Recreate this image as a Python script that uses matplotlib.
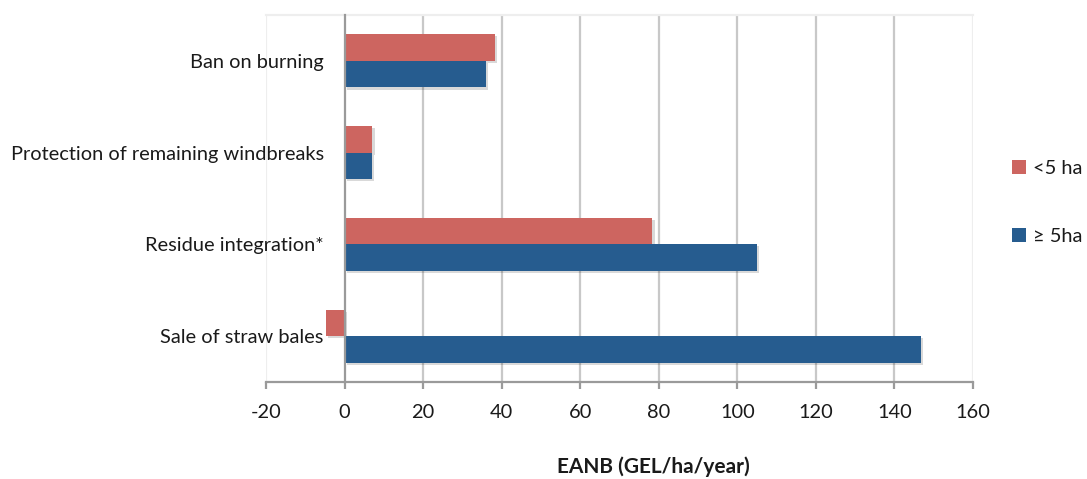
import matplotlib
matplotlib.use("Agg")
import matplotlib.pyplot as plt
import matplotlib.patheffects as pe
import matplotlib.transforms as mtransforms
from matplotlib.patches import Patch
import numpy as np

categories = ["Ban on burning", "Protection of remaining windbreaks",
              "Residue integration*", "Sale of straw bales"]
small_farms = [38.2, 7.1, 78.4, -4.8]       # <5 ha
large_farms = [36.1, 7.0, 105.0, 146.8]     # ≥ 5ha
series_labels = ["<5 ha", "\u2265 5ha"]
x_ticks = [-20, 0, 20, 40, 60, 80, 100, 120, 140, 160]
x_label = "EANB (GEL/ha/year)"

RED = "#CD6560"
BLUE = "#265C8F"
FS = 14.4

plt.rcParams["font.family"] = ["Lato", "DejaVu Sans"]

fig = plt.figure(figsize=(10.87, 4.79), dpi=100)
ax = fig.add_axes([266 / 1087, 1 - 382 / 479, (973 - 266) / 1087, (382 - 15) / 479])

pos = np.arange(len(categories))[::-1]
h = 0.29
shadow = [pe.SimplePatchShadow(offset=(1.5, -1.5), shadow_rgbFace="#000000", alpha=0.15), pe.Normal()]
ax.barh(pos + h / 2, small_farms, height=h, color=RED, path_effects=shadow, zorder=3)
ax.barh(pos - h / 2, large_farms, height=h, color=BLUE, path_effects=shadow, zorder=3)

ax.set_xlim(-20, 160)
ax.set_ylim(-0.5, 3.5)
ax.set_xticks(x_ticks)
ax.set_xticklabels([str(t) for t in x_ticks])
ax.set_yticks(pos)
ax.set_yticklabels(categories, va="center_baseline")

# nudge category labels slightly below the group centre
shift = mtransforms.ScaledTranslation(0, -3.5 / 100, fig.dpi_scale_trans)
for lbl in ax.get_yticklabels():
    lbl.set_transform(lbl.get_transform() + shift)

# grid lines for interior ticks, faint frame at the outer edges
for t in x_ticks[2:-1]:
    ax.axvline(t, color="#C8C8C8", lw=1.6, zorder=1)
for t in (x_ticks[0], x_ticks[-1]):
    ax.axvline(t, color="#EEEEEE", lw=1.6, zorder=1)
ax.axhline(3.5, color="#EEEEEE", lw=1.6, zorder=1, clip_on=False)

ax.spines["top"].set_visible(False)
ax.spines["right"].set_visible(False)
ax.spines["left"].set_position(("data", 0))
ax.spines["left"].set_color("#9A9A9A")
ax.spines["left"].set_linewidth(1.6)
ax.spines["left"].set_zorder(4)
ax.spines["bottom"].set_color("#9A9A9A")
ax.spines["bottom"].set_linewidth(1.6)

ax.tick_params(axis="y", length=0, pad=15, labelsize=FS, labelcolor="#1a1a1a")
ax.tick_params(axis="x", length=5, width=1.6, color="#9A9A9A", direction="out",
               pad=11, labelsize=FS, labelcolor="#1a1a1a")

fig.text(653 / 1087, 1 - 467 / 479, x_label, ha="center", va="center",
         fontsize=15, fontweight="bold", color="#1a1a1a")

handles = [Patch(facecolor=RED, edgecolor="none"), Patch(facecolor=BLUE, edgecolor="none")]
fig.legend(handles, series_labels, loc="center left",
           bbox_to_anchor=(994 / 1087, 1 - 202 / 479), frameon=False,
           fontsize=FS, labelspacing=2.55, handlelength=0.7, handleheight=0.7,
           handletextpad=0.35, labelcolor="#1a1a1a")

fig.savefig("out.png", dpi=100, facecolor="white")
